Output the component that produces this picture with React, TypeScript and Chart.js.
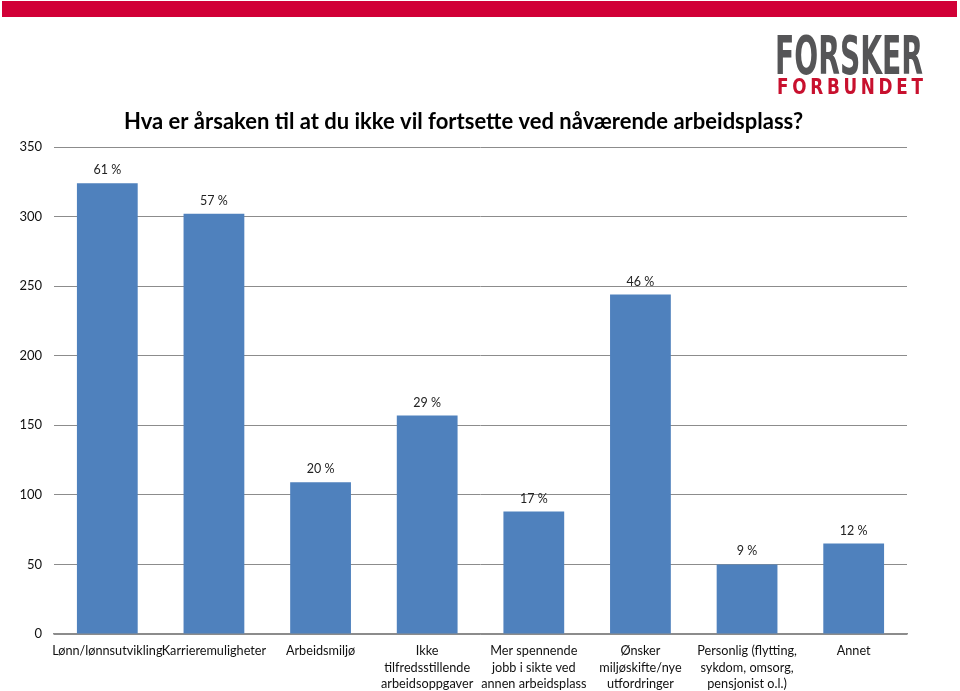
import React, { useEffect, useRef } from "react";
import { Chart, registerables } from "chart.js";

Chart.register(...registerables);

const categories: string[][] = [
  ["Lønn/lønnsutvikling"],
  ["Karrieremuligheter"],
  ["Arbeidsmiljø"],
  ["Ikke", "tilfredsstillende", "arbeidsoppgaver"],
  ["Mer spennende", "jobb i sikte ved", "annen arbeidsplass"],
  ["Ønsker", "miljøskifte/nye", "utfordringer"],
  ["Personlig (flytting,", "sykdom, omsorg,", "pensjonist o.l.)"],
  ["Annet"],
];
const counts: number[] = [324, 302, 109, 157, 88, 244, 50, 65];
const percentLabels: string[] = ["61 %", "57 %", "20 %", "29 %", "17 %", "46 %", "9 %", "12 %"];
const yTicks: number[] = [0, 50, 100, 150, 200, 250, 300, 350];
const titleText = "Hva er årsaken til at du ikke vil fortsette ved nåværende arbeidsplass?";
const logoTop = "FORSKER";
const logoBottom = "FORBUNDET";

const FONT = "Lato, 'Open Sans', sans-serif";
const LOGO_FONT = "'DejaVu Sans Condensed', 'DejaVu Sans', sans-serif";

function drawFitted(ctx: any, text: string, x: number, baseline: number, width: number, font: string) {
  ctx.save();
  ctx.font = font;
  ctx.textAlign = "left";
  ctx.textBaseline = "alphabetic";
  const w = ctx.measureText(text).width;
  ctx.translate(x, baseline);
  ctx.scale(width / w, 1);
  ctx.fillText(text, 0, 0);
  ctx.restore();
}

function drawSpaced(ctx: any, text: string, x: number, baseline: number, width: number, font: string, squeeze: number) {
  ctx.save();
  ctx.font = font;
  ctx.textAlign = "left";
  ctx.textBaseline = "alphabetic";
  const chars = text.split("");
  const widths = chars.map((c) => ctx.measureText(c).width * squeeze);
  const total = widths.reduce((a, b) => a + b, 0);
  const gap = (width - total) / (chars.length - 1);
  let cx = x;
  chars.forEach((c, i) => {
    ctx.save();
    ctx.translate(cx, baseline);
    ctx.scale(squeeze, 1);
    ctx.fillText(c, 0, 0);
    ctx.restore();
    cx += widths[i] + gap;
  });
  ctx.restore();
}

const decorPlugin = {
  id: "decor",
  beforeDraw(chart: any) {
    const ctx = chart.ctx;
    ctx.save();
    ctx.fillStyle = "#ffffff";
    ctx.fillRect(0, 0, chart.width, chart.height);
    ctx.fillStyle = "#D10037";
    ctx.fillRect(2, 1, 955, 16);
    ctx.restore();
  },
  afterDraw(chart: any) {
    const ctx = chart.ctx;
    ctx.save();
    // title
    ctx.fillStyle = "#000000";
    ctx.font = "bold 22px " + FONT;
    ctx.textBaseline = "middle";
    ctx.textAlign = "left";
    const w = ctx.measureText(titleText).width;
    const target = 679;
    ctx.translate(124, 122);
    ctx.scale(target / w, 1);
    ctx.fillText(titleText, 0, 0);
    ctx.restore();

    // logo
    ctx.save();
    ctx.fillStyle = "#555557";
    drawFitted(ctx, logoTop, 775, 74, 148, "bold 53px " + LOGO_FONT);
    ctx.fillStyle = "#C8102E";
    drawSpaced(ctx, logoBottom, 777, 94, 146, "bold 22px " + LOGO_FONT, 0.85);
    ctx.restore();

    // data labels
    ctx.save();
    ctx.font = "12.5px " + FONT;
    ctx.fillStyle = "#222222";
    ctx.textAlign = "center";
    ctx.textBaseline = "middle";
    const meta = chart.getDatasetMeta(0);
    meta.data.forEach((bar: any, i: number) => {
      ctx.fillText(percentLabels[i], bar.x, bar.y - 13);
    });
    ctx.restore();
  },
};

export default function App() {
  const ref = useRef<HTMLCanvasElement>(null);
  useEffect(() => {
    if (!ref.current) return;
    const chart = new Chart(ref.current, {
      type: "bar",
      data: {
        labels: categories,
        datasets: [
          {
            data: counts,
            backgroundColor: "#4F81BD",
            barPercentage: 0.57,
            categoryPercentage: 1,
          },
        ],
      },
      options: {
        responsive: false,
        animation: false,
        devicePixelRatio: 1,
        layout: { padding: { top: 147, left: 0, right: 53, bottom: 0 } },
        plugins: {
          legend: { display: false },
          tooltip: { enabled: false },
          title: { display: false },
        },
        scales: {
          x: {
            grid: { display: false, drawTicks: false },
            border: { display: true, color: "#8C8C8C", width: 1.5 },
            ticks: {
              color: "#111111",
              font: { family: FONT, size: 12.7, lineHeight: 1.3 },
              padding: 9,
              maxRotation: 0,
              autoSkip: false,
            },
            afterFit(scale: any) {
              scale.height = 57;
            },
          },
          y: {
            min: 0,
            max: 350,
            afterBuildTicks(scale: any) {
              scale.ticks = yTicks.map((v) => ({ value: v }));
            },
            grid: { color: "#8C8C8C", lineWidth: 1, drawTicks: false },
            border: { display: false },
            ticks: {
              color: "#111111",
              font: { family: FONT, size: 13 },
              padding: 12,
            },
            afterFit(scale: any) {
              scale.width = 54;
            },
          },
        },
      },
      plugins: [decorPlugin],
    });
    return () => chart.destroy();
  }, []);

  return (
    <div style={{ position: "absolute", left: 0, top: 0, width: 960, height: 691, background: "#fff" }}>
      <canvas ref={ref} width={960} height={691} style={{ position: "absolute", left: 0, top: 0 }} />
    </div>
  );
}
